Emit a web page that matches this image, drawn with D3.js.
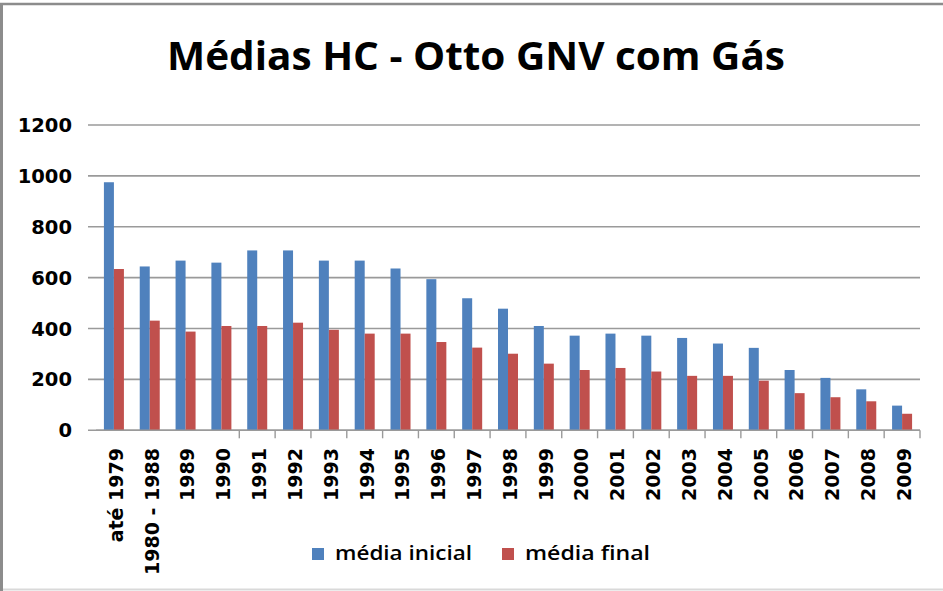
<!DOCTYPE html>
<html>
<head>
<meta charset="utf-8">
<script src="https://cdn.jsdelivr.net/npm/d3@7"></script>
<style>
  html, body { margin: 0; padding: 0; background: #fff; }
  svg { display: block; }
</style>
</head>
<body>
<svg id="chart" width="943" height="591"></svg>
<script>
const title = "Médias HC - Otto GNV com Gás";
const categories = ["até 1979", "1980 - 1988", "1989", "1990", "1991", "1992", "1993", "1994", "1995", "1996", "1997", "1998", "1999", "2000", "2001", "2002", "2003", "2004", "2005", "2006", "2007", "2008", "2009"];
const seriesNames = ["média inicial", "média final"];
const mediaInicial = [975, 644, 667, 659, 707, 707, 667, 667, 636, 594, 519, 478, 410, 372, 380, 372, 363, 341, 324, 237, 206, 161, 97];
const mediaFinal = [634, 431, 388, 410, 410, 423, 395, 380, 380, 347, 325, 301, 262, 237, 245, 231, 214, 214, 195, 146, 130, 114, 65];
const yTicks = [0, 200, 400, 600, 800, 1000, 1200];
const colors = ["#4F81BD", "#C0504D"];

const svg = d3.select("#chart");
const W = 943, H = 591;

// frame
svg.append("rect").attr("x", 0).attr("y", 0).attr("width", W).attr("height", H).attr("fill", "#fff");
svg.append("line").attr("x1", 0).attr("x2", W).attr("y1", 589.5).attr("y2", 589.5).attr("stroke", "#d9d9d9").attr("stroke-width", 2);
svg.append("line").attr("x1", 0).attr("x2", W).attr("y1", 4).attr("y2", 4).attr("stroke", "#8c8c8c").attr("stroke-width", 2.5);
svg.append("line").attr("x1", 1.5).attr("x2", 1.5).attr("y1", 3).attr("y2", H).attr("stroke", "#8c8c8c").attr("stroke-width", 3);

const x0 = d3.scaleBand().domain(categories).range([96, 920]).padding(0);
const bw = x0.bandwidth();
const x1 = d3.scaleBand().domain(seriesNames).range([bw / 2 - 10, bw / 2 + 10]).padding(0);
const y = d3.scaleLinear().domain([0, 1200]).range([430.3, 125]);

// gridlines
svg.append("g").selectAll("line").data(yTicks).join("line")
  .attr("x1", 88).attr("x2", 920)
  .attr("y1", d => y(d)).attr("y2", d => y(d))
  .attr("stroke", "#9a9a9a").attr("stroke-width", 1.6);

// y labels
svg.append("g").selectAll("text").data(yTicks).join("text")
  .attr("x", 72).attr("y", d => y(d))
  .attr("dy", "0.36em")
  .attr("text-anchor", "end")
  .attr("font-family", "DejaVu Sans")
  .attr("font-weight", "bold")
  .attr("font-size", 19.5)
  .attr("fill", "#000")
  .text(d => d);

// bars
const series = [mediaInicial, mediaFinal];
const g = svg.append("g");
series.forEach((vals, si) => {
  g.append("g").selectAll("rect").data(vals).join("rect")
    .attr("x", (d, i) => x0(categories[i]) + x1(seriesNames[si]))
    .attr("width", x1.bandwidth())
    .attr("y", d => y(d))
    .attr("height", d => y(0) - y(d))
    .attr("fill", colors[si]);
});

// x axis line + ticks
svg.append("line").attr("x1", 96).attr("x2", 920).attr("y1", y(0)).attr("y2", y(0))
  .attr("stroke", "#9a9a9a").attr("stroke-width", 1.6);
const boundaries = d3.range(4, categories.length + 1).map(i => 96 + i * bw);
svg.append("g").selectAll("line").data(boundaries).join("line")
  .attr("x1", d => d).attr("x2", d => d)
  .attr("y1", y(0)).attr("y2", y(0) + 8)
  .attr("stroke", "#9a9a9a").attr("stroke-width", 1.4);

// x labels
svg.append("g").selectAll("text").data(categories).join("text")
  .attr("transform", d => `translate(${x0(d) + bw / 2 + 2},448) rotate(-90)`)
  .attr("dy", "0.36em")
  .attr("text-anchor", "end")
  .attr("font-family", "DejaVu Sans")
  .attr("font-weight", "bold")
  .attr("font-size", 19)
  .attr("fill", "#000")
  .text(d => d);

// title
svg.append("text")
  .attr("x", 167).attr("y", 69.5)
  .attr("font-family", "Open Sans")
  .attr("font-weight", "bold")
  .attr("font-size", 38.5)
  .attr("textLength", 618)
  .attr("lengthAdjust", "spacingAndGlyphs")
  .attr("fill", "#000")
  .text(title);

// legend
const legendX = [312, 502];
const legendLen = [137, 125];
seriesNames.forEach((name, i) => {
  svg.append("rect").attr("x", legendX[i]).attr("y", 548).attr("width", 12).attr("height", 12).attr("fill", colors[i]);
  svg.append("text")
    .attr("x", legendX[i] + 23).attr("y", 560)
    .attr("font-family", "Open Sans")
    .attr("font-weight", "600")
    .attr("font-size", 19)
    .attr("textLength", legendLen[i])
    .attr("lengthAdjust", "spacingAndGlyphs")
    .attr("fill", "#000")
    .text(name);
});
</script>
</body>
</html>
